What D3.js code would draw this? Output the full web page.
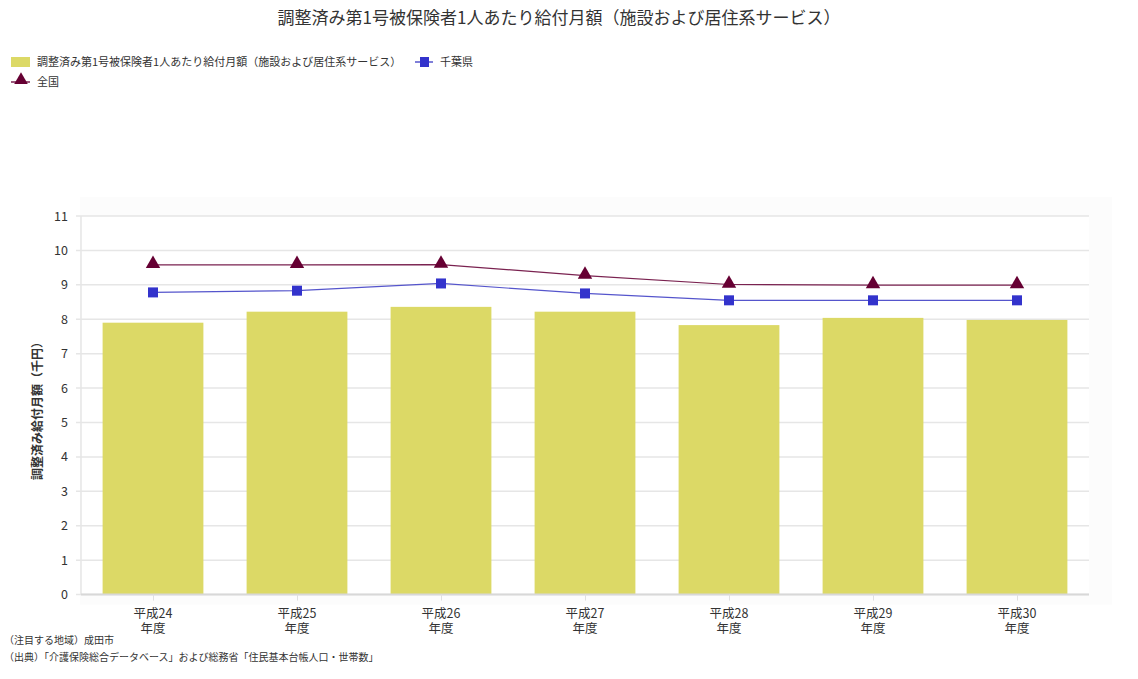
<!DOCTYPE html>
<html><head><meta charset="utf-8">
<script src="https://cdn.jsdelivr.net/npm/d3@7"></script>
<style>
body{margin:0;background:#fff;}
text{font-family:"Noto Sans CJK JP","Noto Sans",sans-serif;}
</style></head>
<body><svg id="c" width="1138" height="679"></svg>
<script>
const categories = ["平成24\n年度","平成25\n年度","平成26\n年度","平成27\n年度","平成28\n年度","平成29\n年度","平成30\n年度"];
const barValues = [7.90, 8.22, 8.36, 8.22, 7.83, 8.04, 7.98];
const chibaValues = [8.78, 8.83, 9.04, 8.75, 8.55, 8.55, 8.55];
const nationalValues = [9.58, 9.58, 9.59, 9.27, 9.01, 8.99, 8.99];
const yTicks = [0,1,2,3,4,5,6,7,8,9,10,11];
const barName = "調整済み第1号被保険者1人あたり給付月額（施設および居住系サービス）";
const chibaName = "千葉県";
const nationalName = "全国";
const titleText = "調整済み第1号被保険者1人あたり給付月額（施設および居住系サービス）";
const yTitle = "調整済み給付月額（千円）";
const notes = ["（注目する地域）成田市","（出典）「介護保険総合データベース」および総務省「住民基本台帳人口・世帯数」"];

const svg = d3.select("#c");
const L=81, R=1089, T=216, B=594.6;
const x = d3.scaleBand().domain(categories).range([L,R]).paddingInner(0.3).paddingOuter(0.15);
const xc = d3.scalePoint().domain(categories).range([L,R]).padding(0.5);
const y = d3.scaleLinear().domain([0,11]).range([B,T]);

// faint plot shadow
svg.append("rect").attr("x",L-1).attr("y",197).attr("width",R-L+24).attr("height",B-197+10).attr("fill","#fcfcfc");
svg.append("rect").attr("x",L).attr("y",T).attr("width",R-L).attr("height",B-T+1).attr("fill","#fff");

// title
svg.append("text").attr("x",559).attr("y",24).attr("text-anchor","middle").attr("font-size",17).attr("fill","#333").text(titleText);

// grid
svg.append("g").selectAll("line").data(yTicks).join("line")
  .attr("x1",L-5).attr("x2",R).attr("y1",d=>y(d)).attr("y2",d=>y(d))
  .attr("stroke","#e6e6e6").attr("stroke-width",1.5);
svg.append("line").attr("x1",L).attr("x2",L).attr("y1",T).attr("y2",B).attr("stroke","#e6e6e6").attr("stroke-width",1.5);

// y axis labels
const yAxis = d3.axisLeft(y).tickValues(yTicks).tickSize(0).tickPadding(13);
const gy = svg.append("g").attr("transform",`translate(${L},0)`).call(yAxis);
gy.select(".domain").remove();
gy.selectAll("text").attr("font-family","'DejaVu Sans',sans-serif").attr("font-size",12.5).attr("fill","#333");

// bars
svg.append("g").selectAll("rect").data(barValues).join("rect")
  .attr("x",(d,i)=>x(categories[i])).attr("width",x.bandwidth())
  .attr("y",d=>y(d)).attr("height",d=>B-y(d)).attr("fill","#dcd966");

// x axis
svg.append("line").attr("x1",L).attr("x2",R).attr("y1",B).attr("y2",B).attr("stroke","#d8d8d8").attr("stroke-width",2);
const xAxis = d3.axisBottom(xc).tickSize(6).tickFormat("");
const gx = svg.append("g").attr("transform",`translate(0,${B})`).call(xAxis);
gx.select(".domain").remove();
gx.selectAll("line").attr("stroke","#e0e0e0");
const xl = svg.append("g");
categories.forEach(c=>{
  c.split("\n").forEach((p,i)=>{
    xl.append("text").attr("x",xc(c)).attr("y",B+23+i*15).attr("text-anchor","middle")
      .attr("font-size",12.5).attr("fill","#333").text(p);
  });
});

// lines
const line = d3.line().x((d,i)=>xc(categories[i])).y(d=>y(d));
svg.append("path").datum(nationalValues).attr("d",line).attr("fill","none").attr("stroke","#7a2250").attr("stroke-width",1.2);
svg.append("path").datum(chibaValues).attr("d",line).attr("fill","none").attr("stroke","#5555cc").attr("stroke-width",1.2);
const tri = d3.symbol().type(d3.symbolTriangle).size(90);
svg.append("g").selectAll("path").data(nationalValues).join("path")
  .attr("d",tri).attr("transform",(d,i)=>`translate(${xc(categories[i])},${y(d)-1})`).attr("fill","#660033");
svg.append("g").selectAll("rect").data(chibaValues).join("rect")
  .attr("x",(d,i)=>xc(categories[i])-5).attr("y",d=>y(d)-5).attr("width",10).attr("height",10).attr("fill","#3333cc");

// y title
svg.append("text").attr("transform","translate(42,408) rotate(-90)").attr("text-anchor","middle")
  .attr("font-size",12).attr("font-weight","bold").attr("fill","#333").text(yTitle);

// legend
const lg = svg.append("g");
lg.append("rect").attr("x",11).attr("y",57).attr("width",19).attr("height",10).attr("fill","#dcd966");
lg.append("text").attr("x",37).attr("y",66).attr("font-size",11).attr("fill","#333").text(barName);
lg.append("line").attr("x1",415).attr("x2",433).attr("y1",62).attr("y2",62).attr("stroke","#5555cc").attr("stroke-width",1.5);
lg.append("rect").attr("x",420).attr("y",57).attr("width",9).attr("height",10).attr("fill","#3333cc");
lg.append("text").attr("x",440).attr("y",66).attr("font-size",11).attr("fill","#333").text(chibaName);
lg.append("line").attr("x1",11).attr("x2",30).attr("y1",82).attr("y2",82).attr("stroke","#7a2250").attr("stroke-width",1.5);
lg.append("path").attr("d",d3.symbol().type(d3.symbolTriangle).size(80)).attr("transform","translate(21,80)").attr("fill","#660033");
lg.append("text").attr("x",37).attr("y",86).attr("font-size",11).attr("fill","#333").text(nationalName);

// notes
svg.append("g").selectAll("text").data(notes).join("text")
  .attr("x",4).attr("y",(d,i)=>644+i*17).attr("font-size",10).attr("fill","#333").text(d=>d);
</script></body></html>
